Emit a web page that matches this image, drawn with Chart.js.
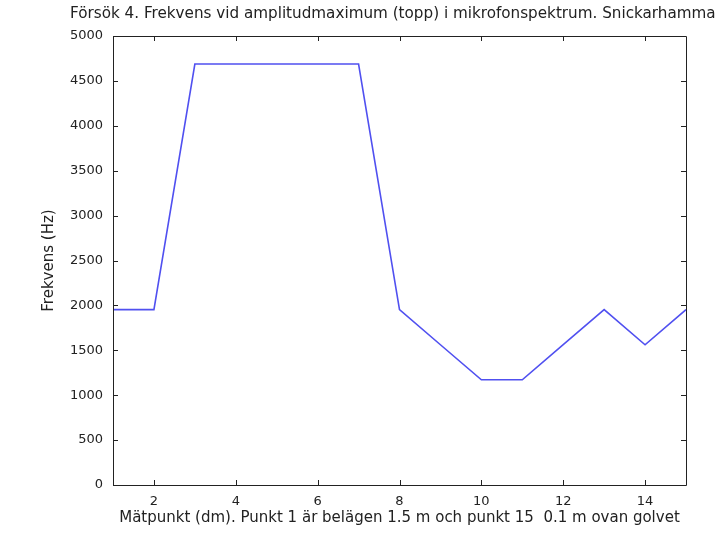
<!DOCTYPE html>
<html>
<head>
<meta charset="utf-8">
<script src="https://cdn.jsdelivr.net/npm/chart.js@4/dist/chart.umd.min.js"></script>
<style>
  html, body { margin: 0; padding: 0; background: #ffffff; }
  #wrap { width: 717px; height: 541px; position: relative; }
</style>
</head>
<body>
<div id="wrap"><canvas id="c" width="717" height="541"></canvas></div>
<script>
// Mätpunkter 1–15 (dm) och frekvens vid amplitudmaximum (Hz)
const matpunkter = [1, 2, 3, 4, 5, 6, 7, 8, 9, 10, 11, 12, 13, 14, 15];
const frekvens = [1953, 1953, 4688, 4688, 4688, 4688, 4688, 1953, 1562, 1172, 1172, 1562, 1953, 1562, 1953];
const xTicks = [2, 4, 6, 8, 10, 12, 14];
const yTicks = [0, 500, 1000, 1500, 2000, 2500, 3000, 3500, 4000, 4500, 5000];

const titel = 'Försök 4. Frekvens vid amplitudmaximum (topp) i mikrofonspektrum. Snickarhammare';
const xEtikett = 'Mätpunkt (dm). Punkt 1 är belägen 1.5 m och punkt 15  0.1 m ovan golvet';
const yEtikett = 'Frekvens (Hz)';

const FONT = 'DejaVu Sans, Liberation Sans, Arial, sans-serif';
const INK = '#222222';

// Ram runt diagrammet med inåtvända skalstreck på alla fyra sidor
const ramPlugin = {
  id: 'ram',
  afterDatasetsDraw(chart) {
    const { ctx, chartArea: a, scales: { x, y } } = chart;
    const len = 5;
    ctx.save();
    ctx.strokeStyle = INK;
    ctx.lineWidth = 1;
    ctx.beginPath();
    ctx.rect(Math.round(a.left) + 0.5, Math.round(a.top) + 0.5,
             Math.round(a.right - a.left), Math.round(a.bottom - a.top));
    x.ticks.forEach(t => {
      const px = Math.round(x.getPixelForValue(t.value)) + 0.5;
      ctx.moveTo(px, a.bottom); ctx.lineTo(px, a.bottom - len);
      ctx.moveTo(px, a.top); ctx.lineTo(px, a.top + len);
    });
    y.ticks.forEach(t => {
      const py = Math.round(y.getPixelForValue(t.value)) + 0.5;
      ctx.moveTo(a.left, py); ctx.lineTo(a.left + len, py);
      ctx.moveTo(a.right, py); ctx.lineTo(a.right - len, py);
    });
    ctx.stroke();
    ctx.restore();
  }
};

// Rubrik överst, vänsterställd
const rubrikPlugin = {
  id: 'rubrik',
  afterDraw(chart) {
    const { ctx } = chart;
    ctx.save();
    ctx.fillStyle = INK;
    ctx.font = '15.2px ' + FONT;
    ctx.textAlign = 'left';
    ctx.textBaseline = 'middle';
    ctx.fillText(titel, 70, 14);
    ctx.restore();
  }
};

new Chart(document.getElementById('c'), {
  type: 'line',
  data: {
    datasets: [{
      data: matpunkter.map((m, i) => ({ x: m, y: frekvens[i] })),
      borderColor: '#5050f0',
      borderWidth: 1.6,
      pointRadius: 0,
      tension: 0,
      fill: false
    }]
  },
  options: {
    responsive: false,
    maintainAspectRatio: false,
    animation: false,
    layout: { padding: { top: 36, right: 31, left: 0, bottom: 0 } },
    plugins: { legend: { display: false }, tooltip: { enabled: false } },
    scales: {
      x: {
        type: 'linear',
        min: 1,
        max: 15,
        grid: { display: false },
        border: { display: false },
        afterBuildTicks: s => { s.ticks = xTicks.map(v => ({ value: v })); },
        afterFit: s => { s.height = 56; },
        ticks: { color: INK, font: { family: FONT, size: 13 }, padding: 1, maxRotation: 0,
                 callback: v => String(v) },
        title: {
          display: true, text: xEtikett, color: INK,
          font: { family: FONT, size: 15 }, padding: { top: 0, bottom: 14 }
        }
      },
      y: {
        min: 0,
        max: 5000,
        grid: { display: false },
        border: { display: false },
        afterBuildTicks: s => { s.ticks = yTicks.map(v => ({ value: v })); },
        afterFit: s => { s.width = 113; },
        ticks: { color: INK, font: { family: FONT, size: 13 }, padding: 2,
                 callback: v => String(v) },
        title: {
          display: true, text: yEtikett, color: INK,
          font: { family: FONT, size: 15 }, padding: { top: 40, bottom: 0 }
        }
      }
    }
  },
  plugins: [ramPlugin, rubrikPlugin]
});
</script>
</body>
</html>
